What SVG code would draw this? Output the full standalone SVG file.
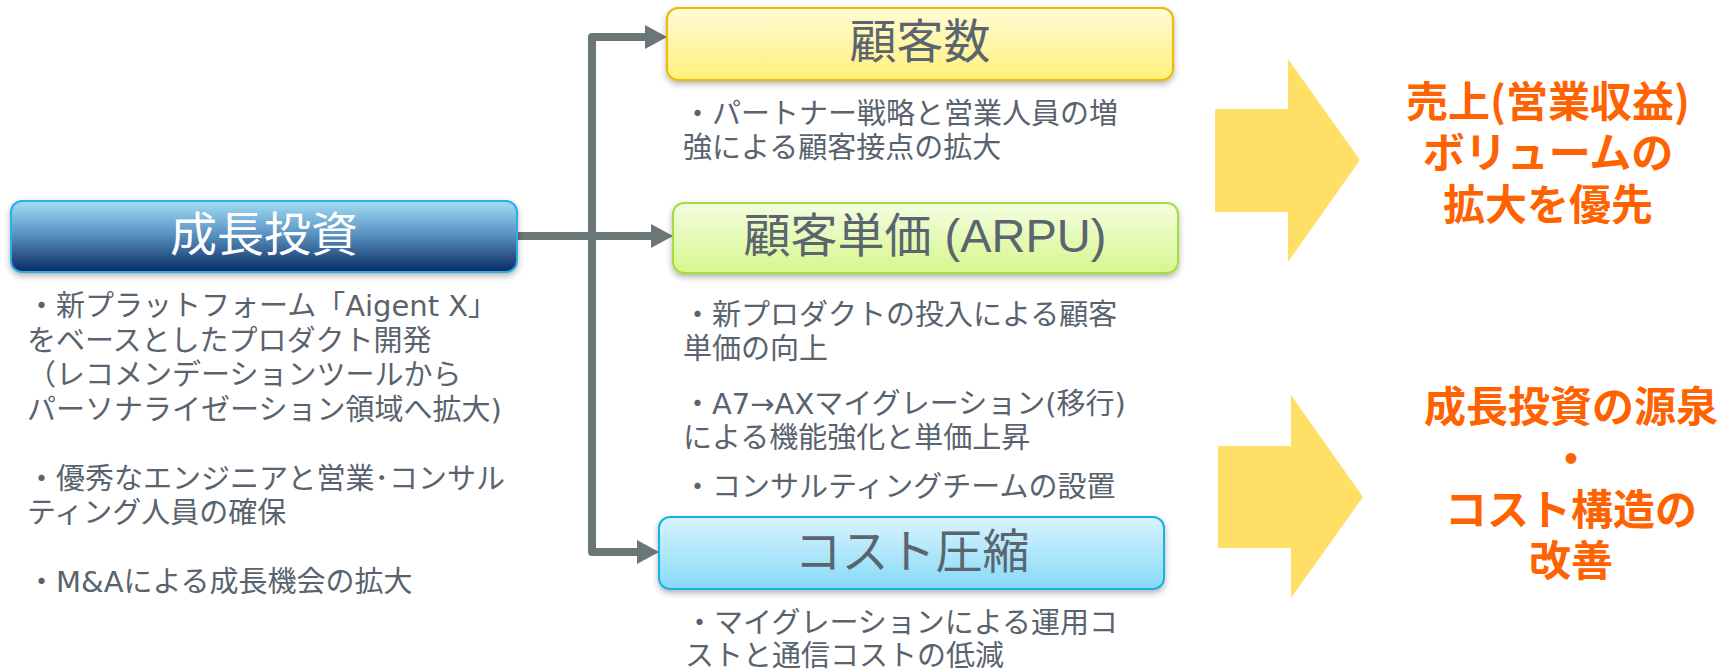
<svg xmlns="http://www.w3.org/2000/svg" width="1722" height="671" viewBox="0 0 1722 671">
<style>
.body{font-family:"DejaVu Sans","Noto Sans CJK JP",sans-serif;font-size:29px;fill:#59636e}
.lbl{font-family:"Liberation Sans","Noto Sans CJK JP",sans-serif;font-size:47px;fill:#5b6570;text-anchor:middle}
.res{font-family:"Noto Sans CJK JP",sans-serif;font-size:42px;font-weight:700;fill:#ff6200;text-anchor:middle}
.conn{fill:none;stroke:#6b7676;stroke-width:8;stroke-linejoin:round;marker-end:url(#ah)}
.big{fill:#ffdf66}
</style>
<defs>
<marker id="ah" markerUnits="userSpaceOnUse" markerWidth="22" markerHeight="24" viewBox="0 0 22 24" refX="0" refY="12" orient="auto">
<path d="M0,0 L22,12 L0,24 z" fill="#6b7676"/>
</marker>
<filter id="sh" x="-5%" y="-20%" width="110%" height="150%">
<feDropShadow dx="0" dy="3" stdDeviation="3" flood-color="#000" flood-opacity="0.3"/>
</filter>
<linearGradient id="gBlue" x1="0" y1="0" x2="0" y2="1">
<stop offset="0" stop-color="#a3def6"/>
<stop offset="0.45" stop-color="#5c95c4"/>
<stop offset="1" stop-color="#0a2a62"/>
</linearGradient>
<linearGradient id="gYel" x1="0" y1="0" x2="0" y2="1">
<stop offset="0" stop-color="#fffbd6"/>
<stop offset="1" stop-color="#fff07a"/>
</linearGradient>
<linearGradient id="gGrn" x1="0" y1="0" x2="0" y2="1">
<stop offset="0" stop-color="#f4fde0"/>
<stop offset="1" stop-color="#d6f78c"/>
</linearGradient>
<linearGradient id="gCyan" x1="0" y1="0" x2="0" y2="1">
<stop offset="0" stop-color="#d9f4fd"/>
<stop offset="1" stop-color="#86d9f8"/>
</linearGradient>
</defs>
<rect width="1722" height="671" fill="#fff"/>

<g id="connectors">
<path class="conn" d="M517,236 H651"/>
<path class="conn" d="M592,236 V37 H645"/>
<path class="conn" d="M592,236 V552 H637"/>
</g>

<g id="node-growth">
<rect x="11" y="201" width="506" height="71" rx="11" fill="url(#gBlue)" stroke="#2aaee6" stroke-width="2" filter="url(#sh)"/>
<text class="lbl" x="264" y="251" style="fill:#fff">成長投資</text>
</g>
<g id="text-growth">
<text class="body" x="27" y="316">・新プラットフォーム「Aigent X」</text>
<text class="body" x="27" y="350.5">をベースとしたプロダクト開発</text>
<text class="body" x="27" y="385">（レコメンデーションツールから</text>
<text class="body" x="27" y="419.5">パーソナライゼーション領域へ拡大)</text>
<text class="body" x="27" y="488.5">・優秀なエンジニアと営業･コンサル</text>
<text class="body" x="27" y="523">ティング人員の確保</text>
<text class="body" x="27" y="592">・M&amp;Aによる成長機会の拡大</text>
</g>

<g id="node-customers">
<rect x="667" y="8" width="506" height="72" rx="11" fill="url(#gYel)" stroke="#f2b900" stroke-width="2" filter="url(#sh)"/>
<text class="lbl" x="920" y="58">顧客数</text>
<text class="body" x="683" y="124">・パートナー戦略と営業人員の増</text>
<text class="body" x="683" y="158">強による顧客接点の拡大</text>
</g>

<g id="node-arpu">
<rect x="673" y="203" width="505" height="70" rx="11" fill="url(#gGrn)" stroke="#a6dc3c" stroke-width="2" filter="url(#sh)"/>
<text class="lbl" x="925" y="252">顧客単価 (ARPU)</text>
<text class="body" x="683" y="325">・新プロダクトの投入による顧客</text>
<text class="body" x="683" y="359">単価の向上</text>
<text class="body" x="683" y="414">・A7→AXマイグレーション(移行)</text>
<text class="body" x="683" y="448">による機能強化と単価上昇</text>
<text class="body" x="683" y="497">・コンサルティングチームの設置</text>
</g>

<g id="node-cost">
<rect x="659" y="517" width="505" height="72" rx="11" fill="url(#gCyan)" stroke="#1aaee6" stroke-width="2" filter="url(#sh)"/>
<text class="lbl" x="912" y="568">コスト圧縮</text>
<text class="body" x="685" y="633">・マイグレーションによる運用コ</text>
<text class="body" x="685" y="666">ストと通信コストの低減</text>
</g>

<g id="result-sales">
<polygon class="big" points="1215,109 1288,109 1288,59 1360,160 1288,262 1288,212 1215,212"/>
<text class="res" x="1548" y="117">売上(営業収益)</text>
<text class="res" x="1548" y="168">ボリュームの</text>
<text class="res" x="1548" y="220">拡大を優先</text>
</g>

<g id="result-cost">
<polygon class="big" points="1218,446 1291,446 1291,395 1363,497 1291,598 1291,548 1218,548"/>
<text class="res" x="1571" y="422">成長投資の源泉</text>
<text class="res" x="1571" y="474">・</text>
<text class="res" x="1571" y="525">コスト構造の</text>
<text class="res" x="1571" y="576">改善</text>
</g>
</svg>
